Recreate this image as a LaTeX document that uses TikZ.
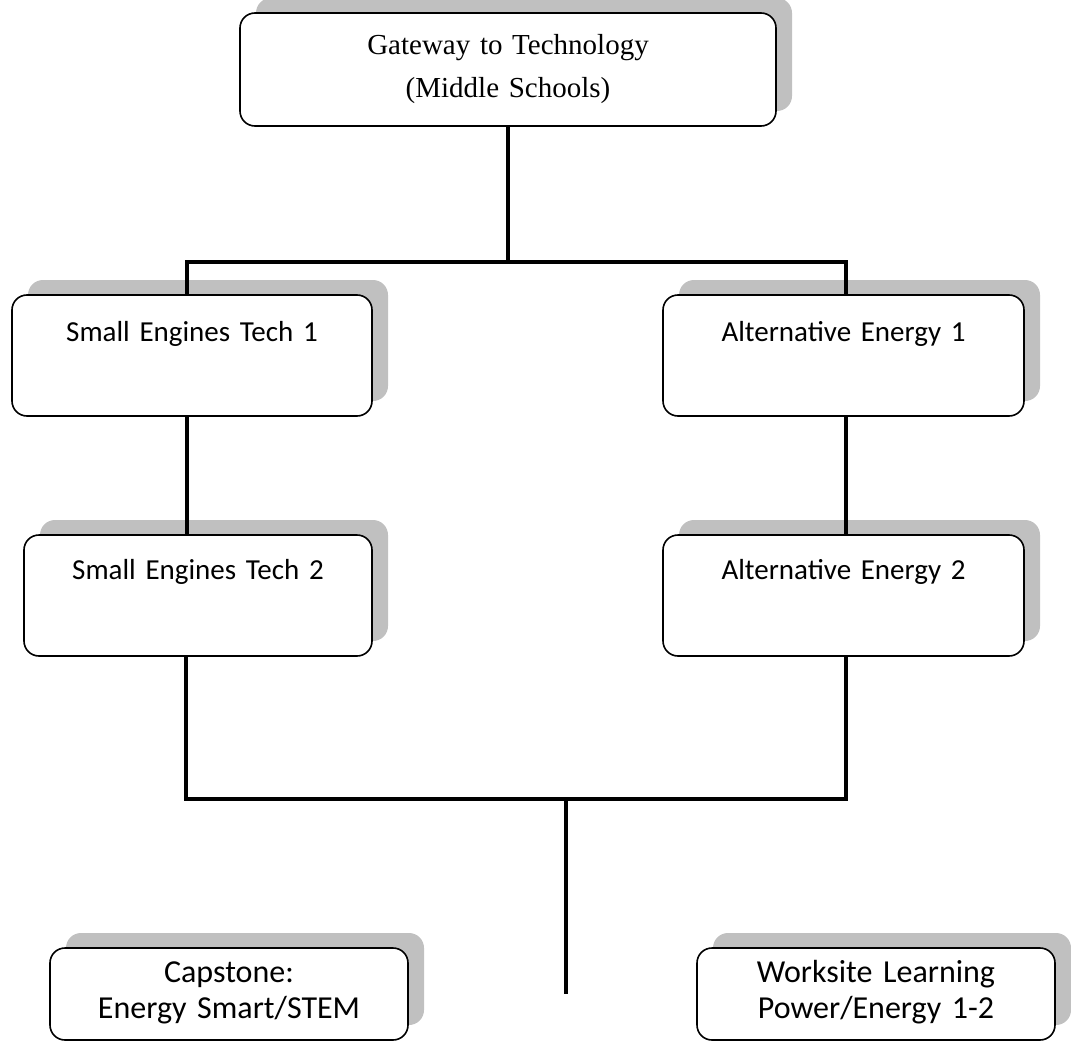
\documentclass[tikz,border=0pt]{standalone}
\usepackage{fontspec}
\setmainfont{Carlito}
\newfontfamily\timesf{Liberation Serif}
\usetikzlibrary{shadows,backgrounds,calc}
\definecolor{shadowgray}{HTML}{C0C0C0}
\begin{document}
\begin{tikzpicture}[x=1pt,y=-1pt]
\tikzset{
  box/.style={draw=black, line width=1.6pt, fill=white, rounded corners=15pt,
    inner sep=0pt, align=center,
    drop shadow={shadow xshift=16pt, shadow yshift=15pt, fill=shadowgray, opacity=1}},
  conn/.style={draw=black, line width=4pt},
  calfont/.style={font=\fontsize{29}{35}\selectfont},
  bigfont/.style={font=\fontsize{32}{36}\selectfont}
}
\useasboundingbox[fill=white] (0,0) rectangle (1071,1046);

% boxes (center x, center y)
\node[box, text width=536pt, text height=42pt, text depth=71pt,
      font=\timesf\fontsize{29}{43}\selectfont] (top) at (508,69.5)
      {Gateway to Technology\\(Middle Schools)};
\node[box, calfont, text width=360pt, text height=46pt, text depth=75pt] (se1) at (192,355.5) {Small Engines Tech 1};
\node[box, calfont, text width=361pt, text height=46pt, text depth=75pt] (ae1) at (843.5,355.5) {Alternative Energy 1};
\node[box, calfont, text width=348pt, text height=44pt, text depth=77pt] (se2) at (198,595.5) {Small Engines Tech 2};
\node[box, calfont, text width=361pt, text height=44pt, text depth=77pt] (ae2) at (843.5,595.5) {Alternative Energy 2};
\node[box, bigfont, text width=358pt, text height=34pt, text depth=58pt] (cap) at (229,994) {Capstone:\\Energy Smart/STEM};
\node[box, bigfont, text width=358pt, text height=34pt, text depth=58pt] (work) at (876,994) {Worksite Learning\\Power/Energy 1-2};

% connectors
\coordinate (tj) at (508,262);
\coordinate (bj) at (566,799);
\draw[conn] (top.south) -- (tj);
\draw[conn] ([xshift=-5pt]se1.north) |- (tj) -| ([xshift=2.5pt]ae1.north);
\draw[conn] ([xshift=-5pt]se1.south) -- ([xshift=-5pt]se1.south |- se2.north);
\draw[conn] ([xshift=2.5pt]ae1.south) -- ([xshift=2.5pt]ae1.south |- ae2.north);
\draw[conn] ([xshift=-12pt]se2.south) |- (bj) -| ([xshift=2.5pt]ae2.south);
\draw[conn] (bj) -- (bj |- cap.east);
\begin{scope}[on background layer]
  \draw[conn] (cap.east) -- (work.west);
\end{scope}
\end{tikzpicture}
\end{document}
